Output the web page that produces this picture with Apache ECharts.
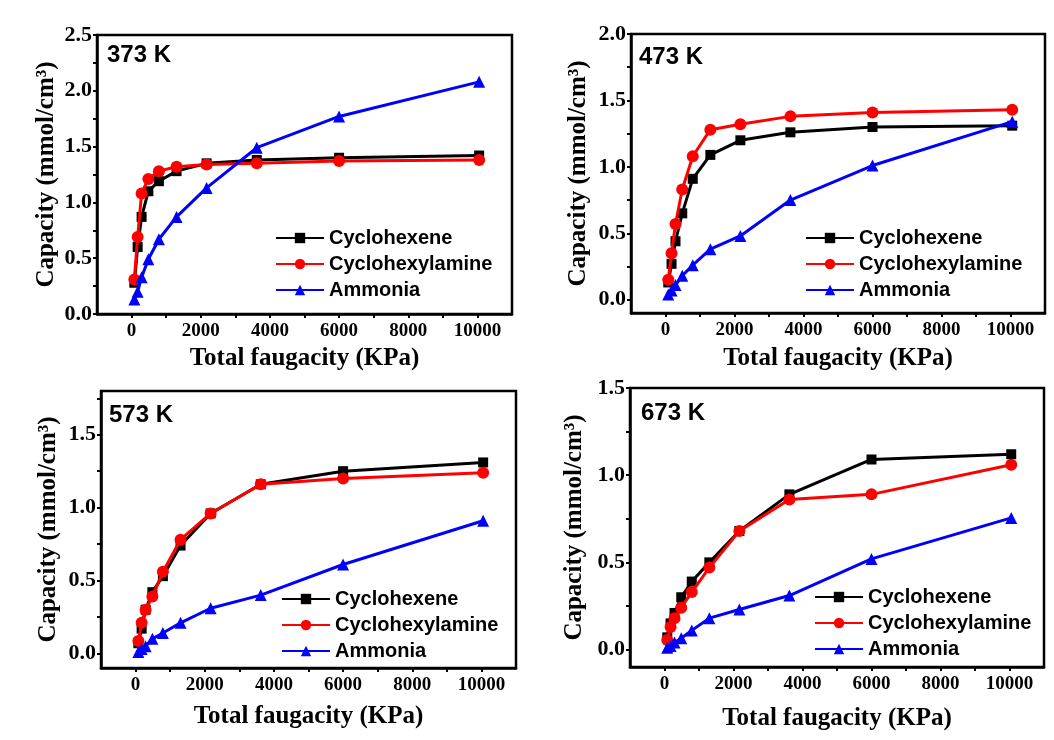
<!DOCTYPE html>
<html>
<head>
<meta charset="utf-8">
<script src="https://cdn.jsdelivr.net/npm/echarts@6/dist/echarts.min.js"></script>
<style>
  html, body { margin: 0; padding: 0; background: #fff; }
  #main { width: 1054px; height: 740px; }
</style>
</head>
<body>
<div id="main"></div>
<script>
// 横坐标 (KPa)
var fugacity = [80, 175, 290, 485, 790, 1300, 2170, 3620, 6000, 10050];

// 373 K
var hexene373 = [0.28, 0.60, 0.87, 1.10, 1.19, 1.28, 1.35, 1.38, 1.40, 1.42];
var amine373 = [0.31, 0.69, 1.08, 1.21, 1.28, 1.32, 1.34, 1.35, 1.37, 1.38];
var ammonia373 = [0.13, 0.20, 0.33, 0.49, 0.67, 0.87, 1.13, 1.49, 1.77, 2.08];
// 473 K
var hexene473 = [0.13, 0.27, 0.44, 0.65, 0.91, 1.09, 1.20, 1.26, 1.30, 1.31];
var amine473 = [0.15, 0.35, 0.57, 0.83, 1.08, 1.28, 1.32, 1.38, 1.41, 1.43];
var ammonia473 = [0.04, 0.07, 0.11, 0.18, 0.26, 0.38, 0.48, 0.75, 1.01, 1.34];
// 573 K
var hexene573 = [0.07, 0.17, 0.30, 0.42, 0.53, 0.74, 0.96, 1.16, 1.25, 1.31];
var amine573 = [0.085, 0.21, 0.30, 0.39, 0.56, 0.78, 0.96, 1.16, 1.20, 1.24];
var ammonia573 = [0.01, 0.03, 0.05, 0.10, 0.14, 0.21, 0.31, 0.40, 0.61, 0.91];
// 673 K
var hexene673 = [0.07, 0.15, 0.21, 0.30, 0.39, 0.50, 0.68, 0.89, 1.09, 1.12];
var amine673 = [0.055, 0.13, 0.18, 0.24, 0.33, 0.47, 0.68, 0.86, 0.89, 1.06];
var ammonia673 = [0.01, 0.02, 0.04, 0.065, 0.11, 0.18, 0.23, 0.31, 0.52, 0.755];

var names = ['Cyclohexene', 'Cyclohexylamine', 'Ammonia'];
var temps = ['373 K', '473 K', '573 K', '673 K'];

// 刻度
var xLabels = [0, 2000, 4000, 6000, 8000, 10000];
var xTicks = [0, 1000, 2000, 3000, 4000, 5000, 6000, 7000, 8000, 9000, 10000];
var yLabels1 = [0, 0.5, 1.0, 1.5, 2.0, 2.5];
var yTicks1 = [0, 0.25, 0.5, 0.75, 1.0, 1.25, 1.5, 1.75, 2.0, 2.25, 2.5];
var yLabels2 = [0, 0.5, 1.0, 1.5, 2.0];
var yTicks2 = [0, 0.25, 0.5, 0.75, 1.0, 1.25, 1.5, 1.75, 2.0];
var yLabels3 = [0, 0.5, 1.0, 1.5];
var yTicks3 = [0, 0.25, 0.5, 0.75, 1.0, 1.25, 1.5, 1.75];
var yLabels4 = [0, 0.5, 1.0, 1.5];
var yTicks4 = [0, 0.25, 0.5, 0.75, 1.0, 1.25, 1.5];

var panelData = [
  [hexene373, amine373, ammonia373],
  [hexene473, amine473, ammonia473],
  [hexene573, amine573, ammonia573],
  [hexene673, amine673, ammonia673]
];

// 四个图的位置
var grids = [
  { left: 97, top: 35, width: 415, height: 279 },
  { left: 631, top: 34, width: 414, height: 279 },
  { left: 101, top: 391, width: 415, height: 277 },
  { left: 630, top: 388, width: 414, height: 279 }
];
var yRange = [[0, 2.5], [-0.1, 2.0], [-0.1, 1.8], [-0.1, 1.5]];
var yLabelList = [yLabels1, yLabels2, yLabels3, yLabels4];
var yTickList = [yTicks1, yTicks2, yTicks3, yTicks4];
var tagPos = [[107, 43], [639, 45], [109, 403], [641, 401]];
var legendPos = [[275, 228], [805, 228], [281, 589], [814, 587]];
var yNameGap = [38, 40, 40, 43];
var xNameGap = [32, 33, 36, 39];

var serif = 'Liberation Serif';
var sans = 'Liberation Sans';
var colors = ['#000000', '#ff0000', '#0000ff'];
var symbols = ['rect', 'circle', 'triangle'];
var symbolSizes = [10, 12, 12];

var chart = echarts.init(document.getElementById('main'));

var option = {
  animation: false,
  title: [],
  legend: [],
  grid: [],
  xAxis: [],
  yAxis: [],
  series: []
};

for (var i = 0; i < 4; i++) {
  option.grid.push({
    left: grids[i].left,
    top: grids[i].top,
    width: grids[i].width,
    height: grids[i].height,
    show: true,
    borderColor: '#000',
    borderWidth: 2.5,
    backgroundColor: 'transparent'
  });

  option.title.push({
    text: temps[i],
    left: tagPos[i][0],
    top: tagPos[i][1],
    padding: 0,
    textStyle: { fontFamily: sans, fontWeight: 'bold', fontSize: 24, color: '#000' }
  });

  option.legend.push({
    data: names,
    orient: 'vertical',
    left: legendPos[i][0],
    top: legendPos[i][1],
    padding: 0,
    itemWidth: 48,
    itemHeight: 13,
    itemGap: 6,
    textStyle: { fontFamily: sans, fontWeight: 'bold', fontSize: 20, lineHeight: 20, color: '#000' }
  });

  option.xAxis.push({
    type: 'value',
    gridIndex: i,
    min: -1000,
    max: 11000,
    name: 'Total faugacity (KPa)',
    nameLocation: 'middle',
    nameGap: xNameGap[i],
    nameTextStyle: { fontFamily: serif, fontWeight: 'bold', fontSize: 25, color: '#000' },
    axisLine: { show: true, onZero: false, lineStyle: { color: '#000', width: 2.5 } },
    axisTick: { show: true, inside: false, length: 4, customValues: xTicks, lineStyle: { color: '#000', width: 2 } },
    axisLabel: {
      customValues: xLabels,
      margin: 8,
      formatter: function (v) { return String(v); },
      fontFamily: serif, fontWeight: 'bold', fontSize: 19, color: '#000'
    },
    splitLine: { show: false }
  });

  option.yAxis.push({
    type: 'value',
    gridIndex: i,
    min: yRange[i][0],
    max: yRange[i][1],
    name: 'Capacity (mmol/cm³)',
    nameLocation: 'middle',
    nameGap: yNameGap[i],
    nameRotate: 90,
    nameTextStyle: { fontFamily: serif, fontWeight: 'bold', fontSize: 25, color: '#000' },
    axisLine: { show: true, onZero: false, lineStyle: { color: '#000', width: 2.5 } },
    axisTick: { show: true, inside: false, length: 4, customValues: yTickList[i], lineStyle: { color: '#000', width: 2 } },
    axisLabel: {
      customValues: yLabelList[i],
      margin: 5,
      formatter: function (v) { return v.toFixed(1); },
      fontFamily: serif, fontWeight: 'bold', fontSize: 22, color: '#000'
    },
    splitLine: { show: false }
  });

  for (var s = 0; s < 3; s++) {
    var pts = [];
    for (var k = 0; k < fugacity.length; k++) {
      pts.push([fugacity[k], panelData[i][s][k]]);
    }
    option.series.push({
      name: names[s],
      type: 'line',
      xAxisIndex: i,
      yAxisIndex: i,
      data: pts,
      symbol: symbols[s],
      symbolSize: symbolSizes[s],
      showAllSymbol: true,
      color: colors[s],
      lineStyle: { color: colors[s], width: 3 },
      itemStyle: { color: colors[s] },
      z: 2 + s
    });
  }
}

chart.setOption(option);
</script>
</body>
</html>
